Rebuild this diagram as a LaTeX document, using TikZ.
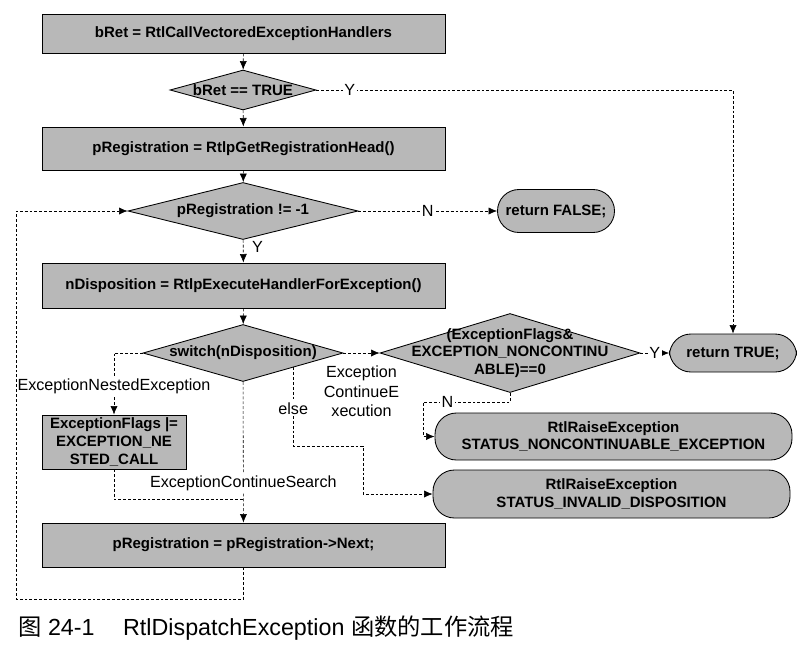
\documentclass[tikz,border=0pt]{standalone}
\usepackage{fontspec}
\setmainfont{Liberation Sans}
\newfontfamily\cjk{Noto Sans CJK SC}
\usepackage{tikz}
\usetikzlibrary{shapes.geometric,arrows.meta}
\newlength{\pxu}
\setlength{\pxu}{0.7pt}

\tikzset{
  box/.style={draw,semithick,fill=black!28,inner sep=0pt,align=center,
    font=\bfseries\fontsize{10.5}{12.5}\selectfont},
  decision/.style={diamond,draw,semithick,fill=black!28,inner sep=0pt},
  dtext/.style={align=center,font=\bfseries\fontsize{10.5}{12.5}\selectfont},
  term/.style={draw,semithick,fill=black!28,rounded corners=15pt,inner sep=0pt,
    align=center,font=\bfseries\fontsize{10.5}{12.5}\selectfont},
  flowline/.style={draw,thin,dash pattern=on 2pt off 1.4pt},
  flow/.style={flowline,-{Latex[length=6pt,width=5pt]}},
  lbl/.style={fill=white,inner sep=1pt,font=\fontsize{11.3}{13.5}\selectfont}
}

\begin{document}
\begin{tikzpicture}[x=0.7pt,y=-0.7pt]
\useasboundingbox (0,0) rectangle (805,650);

\node[box,minimum width=403\pxu,minimum height=39\pxu] (callveh) at (243.5,33.5) {bRet = RtlCallVectoredExceptionHandlers};
\node[decision,minimum width=146\pxu,minimum height=40\pxu,label={[dtext]center:{bRet == TRUE}}] (isret) at (243,90) {};
\node[box,minimum width=403\pxu,minimum height=43\pxu] (gethead) at (243.5,148.5) {pRegistration = RtlpGetRegistrationHead()};
\node[decision,minimum width=230\pxu,minimum height=57\pxu,label={[dtext]center:{pRegistration != -1}}] (notend) at (243,211) {};
\node[term,minimum width=117\pxu,minimum height=43\pxu] (retfalse) at (556,211) {return FALSE;};
\node[box,minimum width=403\pxu,minimum height=45\pxu] (exechdl) at (243.5,285.5) {nDisposition = RtlpExecuteHandlerForException()};
\node[decision,minimum width=200\pxu,minimum height=57\pxu,label={[dtext]center:{switch(nDisposition)}}] (switch) at (243,353) {};
\node[box,minimum width=144\pxu,minimum height=54\pxu] (setnested) at (114,442) {ExceptionFlags |=\\EXCEPTION\_NE\\STED\_CALL};
\node[decision,minimum width=260\pxu,minimum height=79\pxu,label={[dtext]center:{(ExceptionFlags\&\\EXCEPTION\_NONCONTINU\\ABLE)==0}}] (noncont) at (510,353) {};
\node[term,minimum width=127\pxu,minimum height=38\pxu] (rettrue) at (733,353) {return TRUE;};
\node[term,minimum width=357\pxu,minimum height=47\pxu] (raisenc) at (613.5,436.5) {RtlRaiseException\\STATUS\_NONCONTINUABLE\_EXCEPTION};
\node[term,minimum width=357\pxu,minimum height=48\pxu] (raiseinv) at (611.5,494) {RtlRaiseException\\STATUS\_INVALID\_DISPOSITION};
\node[box,minimum width=403\pxu,minimum height=44\pxu] (next) at (243.5,545) {pRegistration = pRegistration->Next;};

\coordinate (join) at (243,499);
\coordinate (elsebend) at (363,446);
\coordinate (nbend) at (423,402);
\coordinate (loopcorner) at (16,599);

\draw[flow] (callveh) -- (isret);
\draw[flow] (isret) -- (gethead);
\draw[flow] (isret.east) -| node[lbl,pos=0.04]{Y} (rettrue);
\draw[flow] (gethead) -- (notend);
\draw[flow] (notend) -- node[lbl]{N} (retfalse);
\draw[flow] (notend) -- node[lbl,right=5pt,pos=0.3]{Y} (exechdl);
\draw[flow] (exechdl) -- (switch);
\draw[flow] (switch.west) -| node[lbl,pos=0.77]{ExceptionNestedException} (setnested);
\draw[flowline] (setnested.south) |- (join);
\draw[flow] (switch) -- node[lbl,pos=0.72]{ExceptionContinueSearch} (next);
\draw[flow] (switch.south east) |- node[lbl,pos=0.26]{else} (elsebend) |- (raiseinv.west);
\draw[flow] (switch) -- node[lbl,below=8pt,align=center]{Exception\\ContinueE\\xecution} (noncont);
\draw[flow] (noncont) -- node[lbl]{Y} (rettrue);
\draw[flow] (noncont.south) |- node[lbl,pos=0.86]{N} (nbend) |- (raisenc.west);
\draw[flow] (next.south) |- (loopcorner) |- (notend.west);

\node[anchor=west,inner sep=0pt,font=\fontsize{16.3}{19}\selectfont] (caption) at (18,628) {{\cjk 图} 24-1\hspace{20pt}RtlDispatchException {\cjk 函数的工作流程}};
\end{tikzpicture}
\end{document}
